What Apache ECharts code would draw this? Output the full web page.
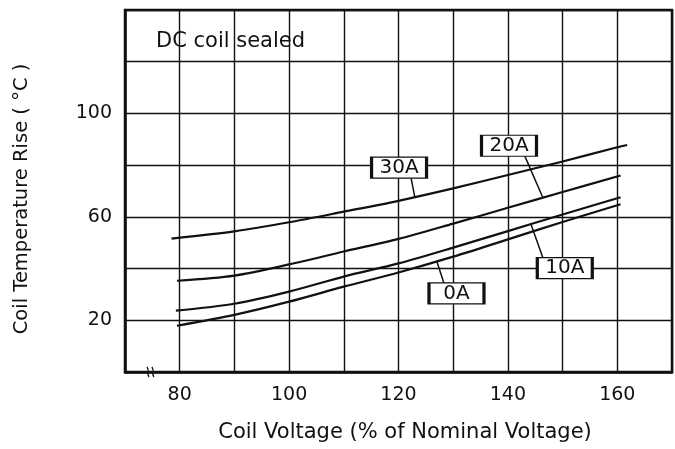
<!DOCTYPE html>
<html>
<head>
<meta charset="utf-8">
<script src="https://cdn.jsdelivr.net/npm/echarts@6/dist/echarts.min.js"></script>
<style>html,body{margin:0;padding:0;background:#fff}#c{width:675px;height:449px}</style>
</head>
<body>
<div id="c"></div>
<script>
// Coil voltage (% of nominal) and temperature rise (°C) for each load current
const volt30 = [78.5, 90, 100, 110, 120, 130, 140, 150, 160, 161.8];
const rise30 = [51.6, 54.4, 57.9, 62.0, 66.2, 71.0, 76.2, 81.4, 86.9, 87.8];
const volt20 = [79.5, 90, 100, 110, 120, 130, 140, 150, 160.6];
const rise20 = [35.3, 37.3, 41.6, 46.6, 51.5, 57.4, 63.5, 69.6, 76.0];
const volt10 = [79.3, 90, 100, 110, 120, 130, 140, 150, 160.6];
const rise10 = [23.7, 26.4, 31.1, 36.9, 42.0, 48.1, 54.5, 60.9, 67.6];
const volt0  = [79.5, 90, 100, 110, 120, 130, 140, 150, 160.6];
const rise0  = [17.9, 22.1, 27.2, 33.0, 38.5, 44.6, 51.3, 58.0, 64.9];
const seriesNames = ['30A', '20A', '10A', '0A'];
const xTickLabels = [80, 100, 120, 140, 160];
const yTickLabels = [20, 60, 100];

const pair = (xs, ys) => xs.map((x, i) => [x, ys[i]]);
const FONT = 'DejaVu Sans';

function curve(name, xs, ys, box, leader) {
  return {
    name: name, type: 'line', data: pair(xs, ys), smooth: 0.3,
    symbol: 'none', animation: false,
    lineStyle: { color: '#111', width: 2.2 },
    markLine: {
      silent: true, symbol: 'none', animation: false,
      lineStyle: { color: '#111', width: 1.5, type: 'solid' },
      label: { show: false },
      data: [[{ coord: leader[0] }, { coord: leader[1] }]]
    },
    markPoint: {
      silent: true, animation: false,
      symbol: 'rect', symbolSize: [55, 21],
      itemStyle: { color: '#fff', borderColor: '#111', borderWidth: 2 },
      label: { show: true, position: 'inside', formatter: name, color: '#111', fontSize: 20, fontFamily: FONT },
      data: [{ coord: box }]
    }
  };
}

const chart = echarts.init(document.getElementById('c'));
chart.setOption({
  backgroundColor: '#fff',
  animation: false,
  title: {
    text: 'DC coil sealed', left: 151, top: 26,
    textStyle: { fontFamily: FONT, fontSize: 21, fontWeight: 'normal', color: '#111' }
  },
  grid: { left: 125, right: 3, top: 10, bottom: 77, show: true, borderColor: '#111', borderWidth: 2.5, backgroundColor: 'transparent' },
  xAxis: {
    type: 'value', min: 70, max: 170, interval: 10,
    name: 'Coil Voltage (% of Nominal Voltage)', nameLocation: 'middle', nameGap: 50,
    nameTextStyle: { fontFamily: FONT, fontSize: 21, color: '#111', padding: [0, 0, 0, 13] },
    axisLine: { show: true, lineStyle: { color: '#111', width: 2.5 } },
    axisTick: { show: false },
    axisLabel: { fontFamily: FONT, fontSize: 19, color: '#111', margin: 14,
      formatter: v => xTickLabels.includes(v) ? String(v) : '' },
    splitLine: { show: true, lineStyle: { color: '#111', width: 1.4 } }
  },
  yAxis: {
    type: 'value', min: 0, max: 140, interval: 20,
    name: 'Coil Temperature Rise ( °C )', nameLocation: 'middle', nameGap: 93,
    nameTextStyle: { fontFamily: FONT, fontSize: 19.5, color: '#111', padding: [0, 16, 0, 0] },
    axisLine: { show: true, lineStyle: { color: '#111', width: 2.5 } },
    axisTick: { show: false },
    axisLabel: { fontFamily: FONT, fontSize: 19, color: '#111', margin: 13,
      formatter: v => yTickLabels.includes(v) ? String(v) : '' },
    splitLine: { show: true, lineStyle: { color: '#111', width: 1.4 } }
  },
  series: [
    curve(seriesNames[0], volt30, rise30, [120.1, 79], [[122.3, 75], [123, 67.4]]),
    curve(seriesNames[1], volt20, rise20, [140.2, 87.5], [[143.1, 83.5], [146.4, 67.4]]),
    curve(seriesNames[2], volt10, rise10, [150.4, 40.2], [[146.4, 44.2], [144.2, 57.2]]),
    curve(seriesNames[3], volt0, rise0, [130.6, 30.4], [[128.3, 34.4], [127, 42.8]]),
    {
      type: 'custom', silent: true, animation: false, z: 5,
      data: [[74.2, 0], [75.1, 0]],
      renderItem: function (params, api) {
        const p = api.coord([api.value(0), api.value(1)]);
        return {
          type: 'bezierCurve',
          shape: { x1: p[0] - 1, y1: p[1] - 5, cpx1: p[0] + 2, cpy1: p[1] - 1, cpx2: p[0] - 2, cpy2: p[1] + 1, x2: p[0] + 1, y2: p[1] + 5 },
          style: { stroke: '#111', lineWidth: 1.3, fill: null }
        };
      }
    }
  ]
});
</script>
</body>
</html>
